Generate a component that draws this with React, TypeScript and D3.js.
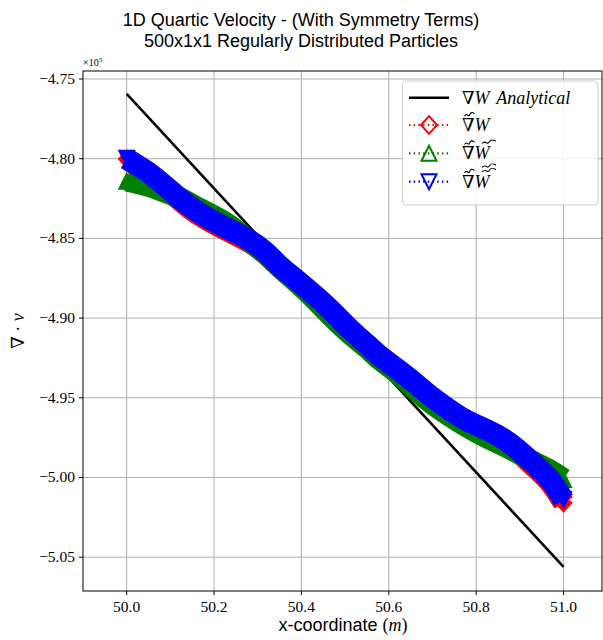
import React from 'react';
import * as d3 from 'd3';

// values are in units of 1e5 (axis shows the x10^5 offset)
const xCoords = [50.00, 50.05, 50.09, 50.13, 50.16, 50.20, 50.24, 50.28, 50.32, 50.35, 50.39, 50.43, 50.47, 50.51, 50.55, 50.58, 50.62, 50.66, 50.70, 50.74, 50.77, 50.81, 50.85, 50.89, 50.93, 50.97, 51.00];
const gradW = [-4.8002, -4.8090, -4.8187, -4.8281, -4.8347, -4.8410, -4.8466, -4.8519, -4.8598, -4.8686, -4.8767, -4.8861, -4.8959, -4.9072, -4.9166, -4.9244, -4.9322, -4.9410, -4.9504, -4.9583, -4.9642, -4.9693, -4.9746, -4.9821, -4.9928, -5.0025, -5.0160];
const gradWt = [-4.8138, -4.8170, -4.8212, -4.8254, -4.8306, -4.8358, -4.8421, -4.8516, -4.8598, -4.8683, -4.8777, -4.8881, -4.8996, -4.9101, -4.9184, -4.9268, -4.9341, -4.9451, -4.9543, -4.9616, -4.9669, -4.9731, -4.9784, -4.9836, -4.9903, -4.9953, -5.0009];
const gradWtt = [-4.8000, -4.8082, -4.8176, -4.8270, -4.8332, -4.8395, -4.8452, -4.8505, -4.8585, -4.8678, -4.8761, -4.8855, -4.8954, -4.9070, -4.9164, -4.9242, -4.9321, -4.9407, -4.9501, -4.9577, -4.9633, -4.9683, -4.9733, -4.9807, -4.9911, -5.0005, -5.0141];
const analyticX = [50.0, 51.0];
const analyticY = [-4.7594, -5.0561];
const xTicks = [50.0, 50.2, 50.4, 50.6, 50.8, 51.0];
const yTicks = [-4.75, -4.80, -4.85, -4.90, -4.95, -5.00, -5.05];

const W = 603, H = 640;
const plot = { left: 83, top: 71, right: 602, bottom: 591 };
const serif = "'Liberation Serif', 'DejaVu Serif', serif";
const sans = "'Liberation Sans', 'DejaVu Sans', sans-serif";

const markerPath = (kind: string, s: number) => {
  const h = s / 2;
  if (kind === 'D') return `M0,${-h * 1.1}L${h},0L0,${h * 1.1}L${-h},0Z`;
  if (kind === '^') return `M0,${-h}L${h},${h}L${-h},${h}Z`;
  return `M0,${h}L${h},${-h}L${-h},${-h}Z`;
};

const Tilde = ({ x, y, w }: { x: number; y: number; w: number }) => (
  <path
    d={`M${x - w / 2},${y + 1.2} C${x - w / 4},${y - 3} ${x - w / 8},${y + 3} ${x},${y} S${x + w / 4},${y - 3} ${x + w / 2},${y - 1.2}`}
    fill="none" stroke="#000" strokeWidth={1.1} />
);

export default function App() {
  const x = d3.scaleLinear().domain([49.9, 51.088]).range([plot.left, plot.right]);
  const y = d3.scaleLinear().domain([-5.0712, -4.745]).range([plot.bottom, plot.top]);
  const fmt = d3.format('.2f');

  const series = [
    { ys: gradW, color: 'red', mk: 'D' },
    { ys: gradWt, color: 'green', mk: '^' },
    { ys: gradWtt, color: 'blue', mk: 'v' },
  ];

  const line = d3.line<[number, number]>().x(d => x(d[0])).y(d => y(d[1]));
  const band = d3.line<[number, number]>().x(d => x(d[0])).y(d => y(d[1])).curve(d3.curveBasis);
  const analytic = line(analyticX.map((v, i) => [v, analyticY[i]]));

  const legendRows = [125, 153.3, 181.7];

  return (
    <svg width={W} height={H} style={{ position: 'absolute', left: 0, top: 0, background: '#fff' }}>
      <rect width={W} height={H} fill="#fff" />
      <defs>
        <clipPath id="plotclip">
          <rect x={plot.left} y={plot.top} width={plot.right - plot.left} height={plot.bottom - plot.top} />
        </clipPath>
      </defs>

      {/* title */}
      <text x={301} y={26} textAnchor="middle" fontFamily={sans} fontSize={18}>1D Quartic Velocity - (With Symmetry Terms)</text>
      <text x={301} y={46.5} textAnchor="middle" fontFamily={sans} fontSize={18}>500x1x1 Regularly Distributed Particles</text>

      {/* grid */}
      {xTicks.map(t => (
        <line key={'gx' + t} x1={x(t)} x2={x(t)} y1={plot.top} y2={plot.bottom} stroke="#b0b0b0" strokeWidth={1} />
      ))}
      {yTicks.map(t => (
        <line key={'gy' + t} x1={plot.left} x2={plot.right} y1={y(t)} y2={y(t)} stroke="#b0b0b0" strokeWidth={1} />
      ))}

      <g clipPath="url(#plotclip)">
        <path d={analytic || ''} fill="none" stroke="#000" strokeWidth={2.6} />
        {series.map(s => {
          const pts = xCoords.map((v, i) => [v, s.ys[i]] as [number, number]);
          const first = pts[0];
          const last = pts[pts.length - 1];
          return (
            <g key={s.color}>
              <path d={band(pts) || ''} fill="none" stroke={s.color} strokeWidth={21.5} strokeLinejoin="round" />
              <path d={markerPath(s.mk, 18)} transform={`translate(${x(first[0])},${y(first[1])})`} fill={s.color} />
              <path d={markerPath(s.mk, 18)} transform={`translate(${x(last[0])},${y(last[1])})`} fill={s.color} />
            </g>
          );
        })}
      </g>

      {/* frame */}
      <rect x={plot.left} y={plot.top} width={plot.right - plot.left} height={plot.bottom - plot.top} fill="none" stroke="#000" strokeWidth={1} />

      {/* x axis */}
      {xTicks.map(t => (
        <g key={'xt' + t}>
          <line x1={x(t)} x2={x(t)} y1={plot.bottom} y2={plot.bottom + 4} stroke="#000" />
          <text x={x(t)} y={plot.bottom + 21} textAnchor="middle" fontFamily={serif} fontSize={15.5}>{t.toFixed(1)}</text>
        </g>
      ))}
      {/* y axis */}
      {yTicks.map(t => (
        <g key={'yt' + t}>
          <line x1={plot.left - 4} x2={plot.left} y1={y(t)} y2={y(t)} stroke="#000" />
          <text x={plot.left - 8} y={y(t) + 5} textAnchor="end" fontFamily={serif} fontSize={15.5}>{fmt(t)}</text>
        </g>
      ))}
      <text x={plot.left} y={66} fontFamily={serif} fontSize={10}>×10<tspan dy={-4} fontSize={7}>5</tspan></text>

      {/* axis labels */}
      <text x={343} y={631} textAnchor="middle" fontSize={18}>
        <tspan fontFamily={sans}>x-coordinate </tspan>
        <tspan fontFamily={serif}>(</tspan>
        <tspan fontFamily={serif} fontStyle="italic">m</tspan>
        <tspan fontFamily={serif}>)</tspan>
      </text>
      <text transform="translate(24,331) rotate(-90)" textAnchor="middle" fontSize={18} fontFamily={serif}>
        ∇ · <tspan fontStyle="italic">v</tspan>
      </text>

      {/* legend */}
      <rect x={402.5} y={81} width={195.5} height={124} rx={4} fill="#fff" fillOpacity={0.85} stroke="#cccccc" strokeWidth={1} />
      <line x1={409} x2={449} y1={97.7} y2={97.7} stroke="#000" strokeWidth={2.6} />
      <text x={462} y={103.5} fontFamily={serif} fontSize={18}>
        ∇<tspan fontStyle="italic">W</tspan><tspan dx={8} fontStyle="italic">Analytical</tspan>
      </text>
      {series.map((s, i) => (
        <g key={'leg' + s.color}>
          <line x1={409} x2={449} y1={legendRows[i]} y2={legendRows[i]} stroke={s.color} strokeWidth={2.2} strokeDasharray="1.5,3.2" />
          <path d={markerPath(s.mk, s.mk === 'D' ? 16 : 15)} transform={`translate(429,${legendRows[i]})`} fill="none" stroke={s.color} strokeWidth={2} />
          <text x={462} y={legendRows[i] + 6} fontFamily={serif} fontSize={18}>
            ∇<tspan fontStyle="italic">W</tspan>
          </text>
          <Tilde x={469.5} y={legendRows[i] - 10} w={10} />
        </g>
      ))}
      <Tilde x={489} y={legendRows[1] - 11} w={14} />
      <Tilde x={489} y={legendRows[2] - 11} w={14} />
      <Tilde x={489} y={legendRows[2] - 15.5} w={14} />
    </svg>
  );
}
